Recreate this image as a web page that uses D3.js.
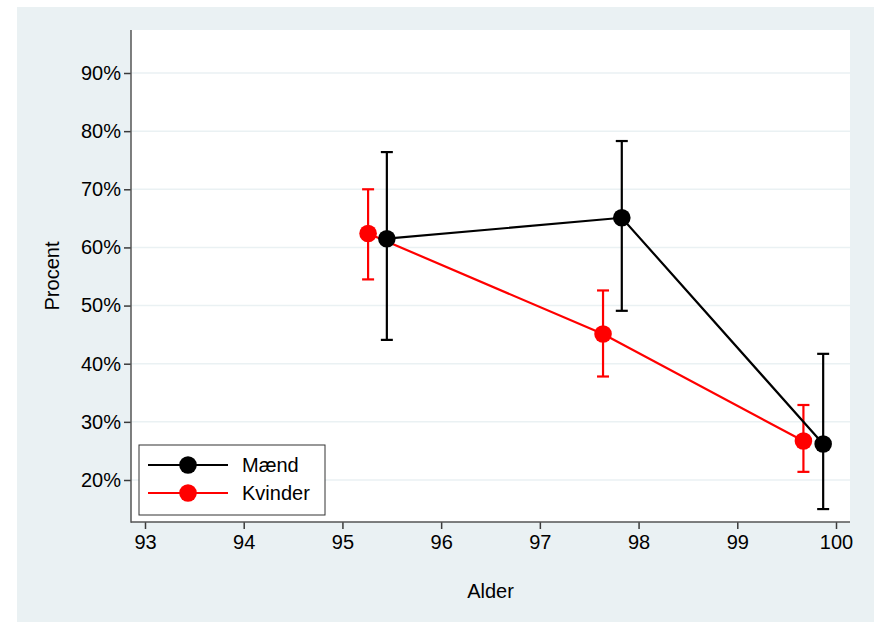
<!DOCTYPE html>
<html>
<head>
<meta charset="utf-8">
<script src="https://cdn.jsdelivr.net/npm/d3@7"></script>
<style>
  html, body { margin: 0; padding: 0; background: #ffffff; }
  svg { display: block; font-family: "Liberation Sans", Arial, sans-serif; }
</style>
</head>
<body>
<svg id="chart" width="874" height="622"></svg>
<script>
// Share (%) by mean age, with 95% confidence intervals, for men and women
const series = ["Mænd", "Kvinder"];
const colors = ["#000000", "#ff0000"];

const maendAge   = [95.45, 97.83, 99.87];
const maendPct   = [61.5, 65.1, 26.2];
const maendLow   = [44.1, 49.1, 15.0];
const maendHigh  = [76.4, 78.3, 41.7];

const kvinderAge  = [95.26, 97.64, 99.67];
const kvinderPct  = [62.4, 45.1, 26.7];
const kvinderLow  = [54.5, 37.8, 21.4];
const kvinderHigh = [70.0, 52.6, 32.9];

const xTicks = [93, 94, 95, 96, 97, 98, 99, 100];
const yTicks = [20, 30, 40, 50, 60, 70, 80, 90];

const xTitle = "Alder";
const yTitle = "Procent";

const svg = d3.select("#chart");
const W = 874, H = 622;
const fontSize = "20px";

// outer panel
svg.append("rect").attr("x", 17).attr("y", 7).attr("width", W - 17).attr("height", H - 7)
  .attr("fill", "#eaf1f3");

const plot = { left: 131, top: 30, right: 850, bottom: 522 };
svg.append("rect").attr("x", plot.left).attr("y", plot.top)
  .attr("width", plot.right - plot.left).attr("height", plot.bottom - plot.top)
  .attr("fill", "#ffffff");

const x = d3.scaleLinear().domain([93, 100]).range([145, 836]);
const y = d3.scaleLinear().domain([20, 90]).range([480, 73]);

// grid lines
svg.append("g").selectAll("line").data(yTicks).join("line")
  .attr("x1", plot.left).attr("x2", plot.right)
  .attr("y1", d => y(d)).attr("y2", d => y(d))
  .attr("stroke", "#eaf1f3").attr("stroke-width", 1.5);

// axes
const yAxis = d3.axisLeft(y).tickValues(yTicks).tickFormat(d => d + "%").tickSize(7).tickPadding(3);
const xAxis = d3.axisBottom(x).tickValues(xTicks).tickFormat(d3.format("d")).tickSize(7).tickPadding(6);

const gy = svg.append("g").attr("transform", `translate(${plot.left},0)`).call(yAxis);
const gx = svg.append("g").attr("transform", `translate(0,${plot.bottom})`).call(xAxis);
[gx, gy].forEach(g => {
  g.select(".domain").remove();
  g.selectAll(".tick line").attr("stroke", "#3a3a3a").attr("stroke-width", 1.5);
  g.selectAll(".tick text").attr("fill", "#000").style("font-size", fontSize)
    .style("font-family", "'Liberation Sans', Arial, sans-serif");
});
// axis lines
svg.append("line").attr("x1", plot.left).attr("x2", plot.left)
  .attr("y1", plot.top).attr("y2", plot.bottom + 0.75)
  .attr("stroke", "#555").attr("stroke-width", 1.5);
svg.append("line").attr("x1", plot.left).attr("x2", plot.right)
  .attr("y1", plot.bottom).attr("y2", plot.bottom)
  .attr("stroke", "#555").attr("stroke-width", 1.5);

// titles
svg.append("text").attr("x", (plot.left + plot.right) / 2).attr("y", 598)
  .attr("text-anchor", "middle").style("font-size", fontSize).text(xTitle);
svg.append("text").attr("transform", `translate(59,276) rotate(-90)`)
  .attr("text-anchor", "middle").style("font-size", fontSize).text(yTitle);

const data = [
  { ages: maendAge, pct: maendPct, lo: maendLow, hi: maendHigh },
  { ages: kvinderAge, pct: kvinderPct, lo: kvinderLow, hi: kvinderHigh }
];

const line = d3.line().x(d => x(d.a)).y(d => y(d.p));
const capW = 6;

// women drawn first, men on top
[1, 0].forEach(i => {
  const s = data[i];
  const pts = s.ages.map((a, j) => ({ a, p: s.pct[j], lo: s.lo[j], hi: s.hi[j] }));
  const g = svg.append("g");
  g.append("path").datum(pts).attr("d", line)
    .attr("fill", "none").attr("stroke", colors[i]).attr("stroke-width", 2.2);
  pts.forEach(d => {
    const cx = x(d.a);
    g.append("line").attr("x1", cx).attr("x2", cx).attr("y1", y(d.lo)).attr("y2", y(d.hi))
      .attr("stroke", colors[i]).attr("stroke-width", 2.2);
    [d.lo, d.hi].forEach(v => {
      g.append("line").attr("x1", cx - capW).attr("x2", cx + capW)
        .attr("y1", y(v)).attr("y2", y(v))
        .attr("stroke", colors[i]).attr("stroke-width", 2.2);
    });
  });
  g.selectAll("circle").data(pts).join("circle")
    .attr("cx", d => x(d.a)).attr("cy", d => y(d.p)).attr("r", 8.8)
    .attr("fill", colors[i]);
});

// legend
const lg = svg.append("g");
lg.append("rect").attr("x", 139).attr("y", 445).attr("width", 186).attr("height", 70)
  .attr("fill", "#fff").attr("stroke", "#333").attr("stroke-width", 1);
series.forEach((name, i) => {
  const ly = 465 + i * 28;
  lg.append("line").attr("x1", 148).attr("x2", 228).attr("y1", ly).attr("y2", ly)
    .attr("stroke", colors[i]).attr("stroke-width", 2.2);
  lg.append("circle").attr("cx", 188).attr("cy", ly).attr("r", 8.8).attr("fill", colors[i]);
  lg.append("text").attr("x", 242).attr("y", ly + 7).style("font-size", fontSize).text(name);
});
</script>
</body>
</html>
